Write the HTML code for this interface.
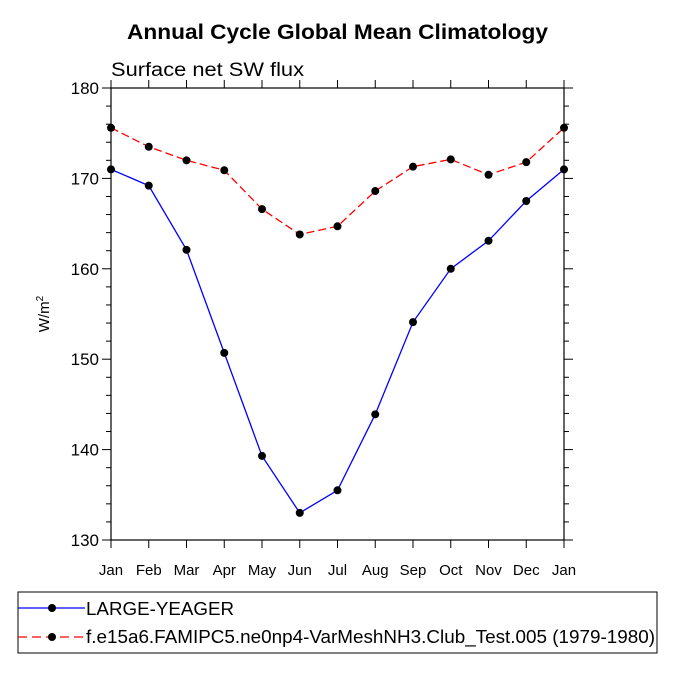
<!DOCTYPE html>
<html><head><meta charset="utf-8"><style>
body{margin:0;background:#fff;}
svg text{font-family:"Liberation Sans",Helvetica,Arial,sans-serif;}
</style></head><body>
<svg id="chart" width="675" height="675" xmlns="http://www.w3.org/2000/svg">
<text x="127" y="39" textLength="421" lengthAdjust="spacingAndGlyphs" font-size="21" font-weight="bold">Annual Cycle Global Mean Climatology</text>
<text x="111" y="76" textLength="193" lengthAdjust="spacingAndGlyphs" font-size="19">Surface net SW flux</text>
<g id="axes"></g>
<g id="series"></g>
<g>
<rect x="18" y="592" width="639" height="61" fill="none" stroke="#000" stroke-width="1"/>
<g>
<line x1="18" y1="608" x2="85" y2="608" stroke="#00f" stroke-width="1.3"/>
<circle cx="52" cy="608" r="4" fill="#000"/>
<text x="86" y="615" font-size="18" textLength="148" lengthAdjust="spacingAndGlyphs">LARGE-YEAGER</text>
</g>
<g>
<line x1="18" y1="637" x2="85" y2="637" stroke="#f00" stroke-width="1.3" stroke-dasharray="9,5"/>
<circle cx="52" cy="637" r="4" fill="#000"/>
<text x="86" y="643" font-size="18" textLength="569" lengthAdjust="spacingAndGlyphs">f.e15a6.FAMIPC5.ne0np4-VarMeshNH3.Club_Test.005 (1979-1980)</text>
</g>
</g>
</svg>
<script>
const months=["Jan","Feb","Mar","Apr","May","Jun","Jul","Aug","Sep","Oct","Nov","Dec","Jan"];
const blueValues=[171.0,169.2,162.1,150.7,139.3,133.0,135.5,143.9,154.1,160.0,163.1,167.5,171.0];
const redValues=[175.6,173.5,172.0,170.9,166.6,163.8,164.7,168.6,171.3,172.1,170.4,171.8,175.6];
const yTicks=[130,140,150,160,170,180];
const X0=111,X1=564,Y0=540,Y1=88,YMIN=130,YMAX=180;
const NS="http://www.w3.org/2000/svg";
function xs(i){return X0+(X1-X0)*i/(months.length-1);}
function ys(v){return Y0-(v-YMIN)/(YMAX-YMIN)*(Y0-Y1);}
function mk(tag,attrs,parent){const e=document.createElementNS(NS,tag);for(const k in attrs)e.setAttribute(k,attrs[k]);parent.appendChild(e);return e;}
const axes=document.getElementById('axes');
const fr=mk('rect',{x:X0,y:Y1,width:X1-X0,height:Y0-Y1,fill:'none',stroke:'#000','stroke-width':1.2},axes);


months.forEach((m,i)=>{
  const x=xs(i);
  mk('line',{x1:x,y1:Y0,x2:x,y2:Y0+8,stroke:'#000'},axes);
  mk('line',{x1:x,y1:Y1,x2:x,y2:Y1-8,stroke:'#000'},axes);
  const t=mk('text',{x:x,y:Y0+35,'text-anchor':'middle','font-size':15},axes);
  t.textContent=m;
  
  
});
for(let v=YMIN;v<=YMAX;v+=2){
  const y=ys(v),major=(v%10===0),len=major?9:5;
  mk('line',{x1:X0,y1:y,x2:X0-len,y2:y,stroke:'#000'},axes);
  mk('line',{x1:X1,y1:y,x2:X1+len,y2:y,stroke:'#000'},axes);
}
yTicks.forEach(v=>{
  const t=mk('text',{x:X0-12,y:ys(v)+6,'text-anchor':'end','font-size':17},axes);
  t.textContent=v;
  
  
});
const yt=mk('text',{transform:'translate(49,314) rotate(-90)','text-anchor':'middle','font-size':15},axes);
yt.innerHTML='W/m<tspan dy="-6" font-size="10">2</tspan>';


const series=document.getElementById('series');
function draw(vals,color,dash,name){
  const g=mk('g',{},series);
  
  
  const pts=vals.map((v,i)=>xs(i)+','+ys(v)).join(' ');
  const a={points:pts,fill:'none',stroke:color,'stroke-width':1.3};
  if(dash)a['stroke-dasharray']=dash;
  mk('polyline',a,g);
  vals.forEach((v,i)=>{
    const c=mk('circle',{cx:xs(i),cy:ys(v),r:4,fill:'#000'},g);
    
    
  });
}
draw(redValues,'#f00','8,4','series-famipc5');
draw(blueValues,'#00f',null,'series-large-yeager');
</script>
</body></html>
